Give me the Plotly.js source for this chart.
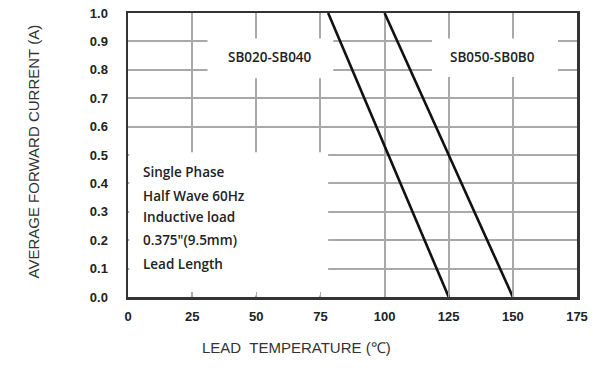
<!DOCTYPE html>
<html>
<head>
<meta charset="utf-8">
<script src="https://cdn.plot.ly/plotly-3.0.1.min.js"></script>
<style>html,body{margin:0;padding:0;background:#fff;}#chart{width:602px;height:371px;}</style>
</head>
<body>
<div id="chart"></div>
<script>
// Data
const seriesNames = ["SB020-SB040", "SB050-SB0B0"];
const sb020Temp = [78, 125];
const sb020Current = [1.0, 0.0];
const sb050Temp = [100, 150];
const sb050Current = [1.0, 0.0];
const xTicks = [0, 25, 50, 75, 100, 125, 150, 175];
const yTicks = [0, 0.1, 0.2, 0.3, 0.4, 0.5, 0.6, 0.7, 0.8, 0.9, 1.0];
const noteLines = ["Single Phase", "Half Wave 60Hz", "Inductive load", "0.375\"(9.5mm)", "Lead Length"];

const lineStyle = {color: "#111", width: 2.6};
const traces = [
  {x: sb020Temp, y: sb020Current, mode: "lines", line: lineStyle, name: seriesNames[0], hoverinfo: "none"},
  {x: sb050Temp, y: sb050Current, mode: "lines", line: lineStyle, name: seriesNames[1], hoverinfo: "none"}
];

const tickFont = {family: "Liberation Sans, Arial, sans-serif", size: 13, color: "#222", weight: "bold"};
const noteFont = {family: "Open Sans, Noto Sans, sans-serif", size: 13.5, color: "#222", weight: 600};
const titleFont = {family: "Liberation Sans Narrow, Liberation Sans, Arial, sans-serif", size: 15, color: "#333"};

const annotations = [
  {x: 55.3, y: 0.845, xref: "x", yref: "y", text: seriesNames[0], showarrow: false, font: noteFont},
  {x: 142, y: 0.845, xref: "x", yref: "y", text: seriesNames[1], showarrow: false, font: noteFont},
  {x: (296 - 128) / 449, y: -(358 - 297) / 284, xref: "paper", yref: "paper",
   text: "LEAD  TEMPERATURE (℃)", showarrow: false, font: titleFont},
  {x: -(128 - 22) / 449, y: (297 - 152) / 284, xref: "paper", yref: "paper",
   text: "AVERAGE FORWARD CURRENT (A)", showarrow: false, textangle: -90, font: titleFont}
];
// note text block
const noteY = [0.44, 0.357, 0.283, 0.201, 0.116];
noteLines.forEach((t, i) => annotations.push({
  x: 5, y: noteY[i], xref: "x", yref: "y", text: t, showarrow: false, xanchor: "left", font: noteFont
}));

const whiteBox = (x0, x1, y0, y1) => ({type: "rect", xref: "x", yref: "y", x0, x1, y0, y1,
  fillcolor: "#fff", line: {width: 0}, layer: "between"});

const layout = {
  width: 602, height: 371,
  margin: {l: 128, r: 25, t: 13, b: 74},
  paper_bgcolor: "#fff", plot_bgcolor: "#fff",
  showlegend: false,
  xaxis: {
    range: [0, 175], tickvals: xTicks, ticktext: xTicks.map(String),
    showgrid: true, gridcolor: "#a9a9a9", gridwidth: 2,
    showline: true, mirror: true, linecolor: "#333", linewidth: 2.5,
    ticks: "inside", ticklen: 5, tickcolor: "#aaa", tickwidth: 1.5,
    ticklabelstandoff: 6,
    tickfont: tickFont, zeroline: false, fixedrange: true
  },
  yaxis: {
    range: [0, 1.0], tickvals: yTicks, tickformat: ".1f",
    showgrid: true, gridcolor: "#a9a9a9", gridwidth: 2,
    showline: true, mirror: true, linecolor: "#333", linewidth: 2.5,
    ticks: "", ticklabelstandoff: 15,
    tickfont: tickFont, zeroline: false, fixedrange: true
  },
  shapes: [
    whiteBox(31, 80, 0.77, 0.91),
    whiteBox(118.5, 167.6, 0.775, 0.91),
    whiteBox(0.5, 78, 0.005, 0.51)
  ],
  annotations: annotations
};

Plotly.newPlot("chart", traces, layout, {displayModeBar: false, staticPlot: true});
</script>
</body>
</html>
